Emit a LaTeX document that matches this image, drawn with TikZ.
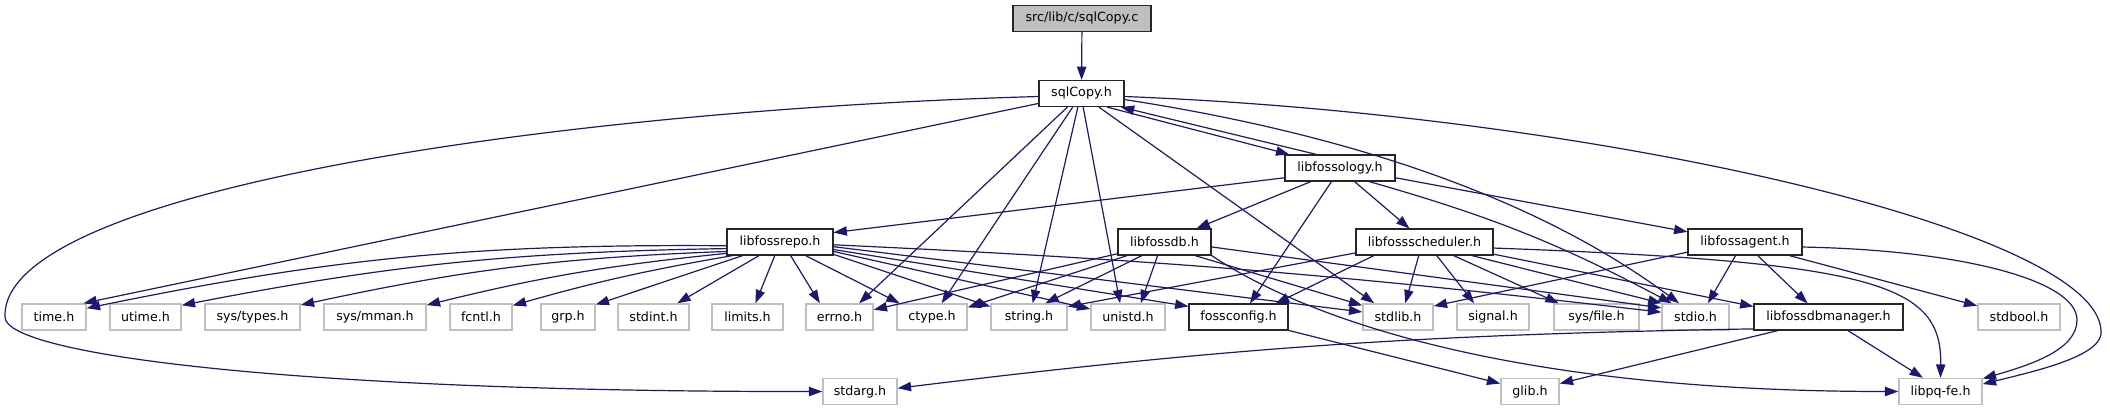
\documentclass[tikz,border=0pt]{standalone}
\usepackage{fontspec}
\setmainfont{DejaVu Sans}
\usetikzlibrary{arrows.meta}
\definecolor{edgeblue}{RGB}{25,25,112}
\definecolor{grey75}{RGB}{191,191,191}
\tikzset{
  hdr/.style={
    rectangle,
    minimum height=19.5pt,
    inner sep=0pt,
    font=\fontsize{9.5}{11}\selectfont
  },
  syshdr/.style={hdr, draw=grey75, line width=1.1pt},
  dochdr/.style={hdr, draw=black!85, line width=0.85pt},
  srcfile/.style={hdr, draw=black!85, line width=0.85pt, fill=grey75},
  bw/.style={minimum width=#1*0.75pt},
  inc/.style={-{Triangle[length=10pt,width=7pt]}, draw=edgeblue, line width=0.9pt}
}
\begin{document}
\begin{tikzpicture}[x=0.75pt, y=-0.75pt]
  \useasboundingbox (0,0) rectangle (2110,411);
  \node[srcfile, bw=138] (src) at (1082,18.5) {src/lib/c/sqlCopy.c};
  \node[dochdr, bw=85] (sqlcopy) at (1081.5,93.5) {sqlCopy.h};
  \node[dochdr, bw=110] (fossology) at (1340,168) {libfossology.h};
  \node[dochdr, bw=106] (fossrepo) at (780,242) {libfossrepo.h};
  \node[dochdr, bw=93] (fossdb) at (1164.5,242) {libfossdb.h};
  \node[dochdr, bw=137] (fossscheduler) at (1424.5,242) {libfossscheduler.h};
  \node[dochdr, bw=114] (fossagent) at (1745,242) {libfossagent.h};
  \node[syshdr, bw=64] (timeh) at (54,317) {time.h};
  \node[syshdr, bw=71] (utime) at (145.5,317) {utime.h};
  \node[syshdr, bw=95] (systypes) at (252.5,317) {sys/types.h};
  \node[syshdr, bw=102] (sysmman) at (375,317) {sys/mman.h};
  \node[syshdr, bw=62] (fcntl) at (481,317) {fcntl.h};
  \node[syshdr, bw=54] (grp) at (568,317) {grp.h};
  \node[syshdr, bw=71] (stdint) at (653.5,317) {stdint.h};
  \node[syshdr, bw=71] (limits) at (747.5,317) {limits.h};
  \node[syshdr, bw=67] (errno) at (839.5,317) {errno.h};
  \node[syshdr, bw=70] (ctype) at (932,317) {ctype.h};
  \node[syshdr, bw=76] (stringh) at (1029,317) {string.h};
  \node[syshdr, bw=74] (unistd) at (1128,317) {unistd.h};
  \node[dochdr, bw=99] (fossconfig) at (1238.5,317) {fossconfig.h};
  \node[syshdr, bw=70] (stdlib) at (1398,317) {stdlib.h};
  \node[syshdr, bw=72] (signal) at (1493,317) {signal.h};
  \node[syshdr, bw=85] (sysfile) at (1596.5,317) {sys/file.h};
  \node[syshdr, bw=67] (stdio) at (1695.5,317) {stdio.h};
  \node[dochdr, bw=149] (dbmanager) at (1828.5,317) {libfossdbmanager.h};
  \node[syshdr, bw=82] (stdbool) at (2019,317) {stdbool.h};
  \node[syshdr, bw=74] (stdarg) at (860,391.5) {stdarg.h};
  \node[syshdr, bw=58] (glib) at (1530,391.5) {glib.h};
  \node[syshdr, bw=83] (libpqfe) at (1940.5,391.5) {libpq-fe.h};

  \draw[inc] (src) -- (sqlcopy);
  \draw[inc] (sqlcopy.-28) -- (fossology.165);
  \draw[inc] (fossology.150) -- (sqlcopy.-19);
  \draw[inc] (sqlcopy.-176) .. controls (560,110) and (0,190) .. (5,317)
    .. controls (5,355) and (300,392) .. (stdarg.west);
  \draw[inc] (sqlcopy.193) -- (timeh.25);
  \draw[inc] (sqlcopy.-136) -- (errno.35);
  \draw[inc] (sqlcopy.-123) -- (ctype.55);
  \draw[inc] (sqlcopy.-105) -- (stringh.75);
  \draw[inc] (sqlcopy.-83) -- (unistd.120);
  \draw[inc] (sqlcopy.-38) -- (stdlib.150);
  \draw[inc] (sqlcopy.-8) .. controls (1420,145) and (1580,230) .. (stdio.140);
  \draw[inc] (sqlcopy.-4) .. controls (1600,115) and (2095,230) .. (2101,330)
    .. controls (2105,355) and (2040,370) .. (libpqfe.10);

  \draw[inc] (fossology.190) -- (fossrepo.10);
  \draw[inc] (fossology.-155) -- (fossdb.23);
  \draw[inc] (fossology.-122) -- (fossconfig.50);
  \draw[inc] (fossology.-43) -- (fossscheduler.138);
  \draw[inc] (fossology.-25) to[bend left=6] (stdio.150);
  \draw[inc] (fossology.-10) -- (fossagent.170);

  \draw[inc] (fossrepo.184) to[bend right=6] (timeh.15);
  \draw[inc] (fossrepo.187) to[bend right=5] (utime.18);
  \draw[inc] (fossrepo.190) to[bend right=5] (systypes.14);
  \draw[inc] (fossrepo.192) to[bend right=4] (sysmman.13);
  \draw[inc] (fossrepo.196) to[bend right=3] (fcntl.20);
  \draw[inc] (fossrepo.200) -- (grp.24);
  \draw[inc] (fossrepo.213) -- (stdint.30);
  \draw[inc] (fossrepo.249) -- (limits.60);
  \draw[inc] (fossrepo.-52) -- (errno.145);
  \draw[inc] (fossrepo.-28) -- (ctype.157);
  \draw[inc] (fossrepo.-13) -- (stringh.165);
  \draw[inc] (fossrepo.-10) -- (unistd.168);
  \draw[inc] (fossrepo.-8) -- (fossconfig.168);
  \draw[inc] (fossrepo.-5) -- (stdlib.172);
  \draw[inc] (fossrepo.-3) to[bend left=2] (stdio.172);

  \draw[inc] (fossdb.194) -- (errno.12);
  \draw[inc] (fossdb.200) -- (ctype.15);
  \draw[inc] (fossdb.211) -- (stringh.40);
  \draw[inc] (fossdb.243) -- (unistd.47);
  \draw[inc] (fossdb.-24) -- (stdlib.162);
  \draw[inc] (fossdb.-6) -- (stdio.165);
  \draw[inc] (fossdb.-16) .. controls (1300,315) and (1500,391.5) .. (libpqfe.west);

  \draw[inc] (fossscheduler.189) -- (stringh.15);
  \draw[inc] (fossscheduler.195) -- (fossconfig.20);
  \draw[inc] (fossscheduler.247) -- (stdlib.62);
  \draw[inc] (fossscheduler.-48) -- (signal.144);
  \draw[inc] (fossscheduler.-25) -- (sysfile.160);
  \draw[inc] (fossscheduler.-16) -- (stdio.158);
  \draw[inc] (fossscheduler.-10) -- (dbmanager.172);
  \draw[inc] (fossscheduler.-5) .. controls (1880,262) and (1942,285) .. (libpqfe.north);

  \draw[inc] (fossagent.190) -- (stdlib.17);
  \draw[inc] (fossagent.235) -- (stdio.48);
  \draw[inc] (fossagent.-47) -- (dbmanager.147);
  \draw[inc] (fossagent.-17) -- (stdbool.165);
  \draw[inc] (fossagent.-5) .. controls (1960,250) and (2077,280) .. (2077,320)
    .. controls (2077,350) and (2030,365) .. (libpqfe.17);

  \draw[inc] (dbmanager.189) to[bend right=3] (stdarg.5);
  \draw[inc] (dbmanager.195) -- (glib.15);
  \draw[inc] (dbmanager.-35) -- (libpqfe.142);
  \draw[inc] (fossconfig.-15) -- (glib.165);
\end{tikzpicture}
\end{document}
